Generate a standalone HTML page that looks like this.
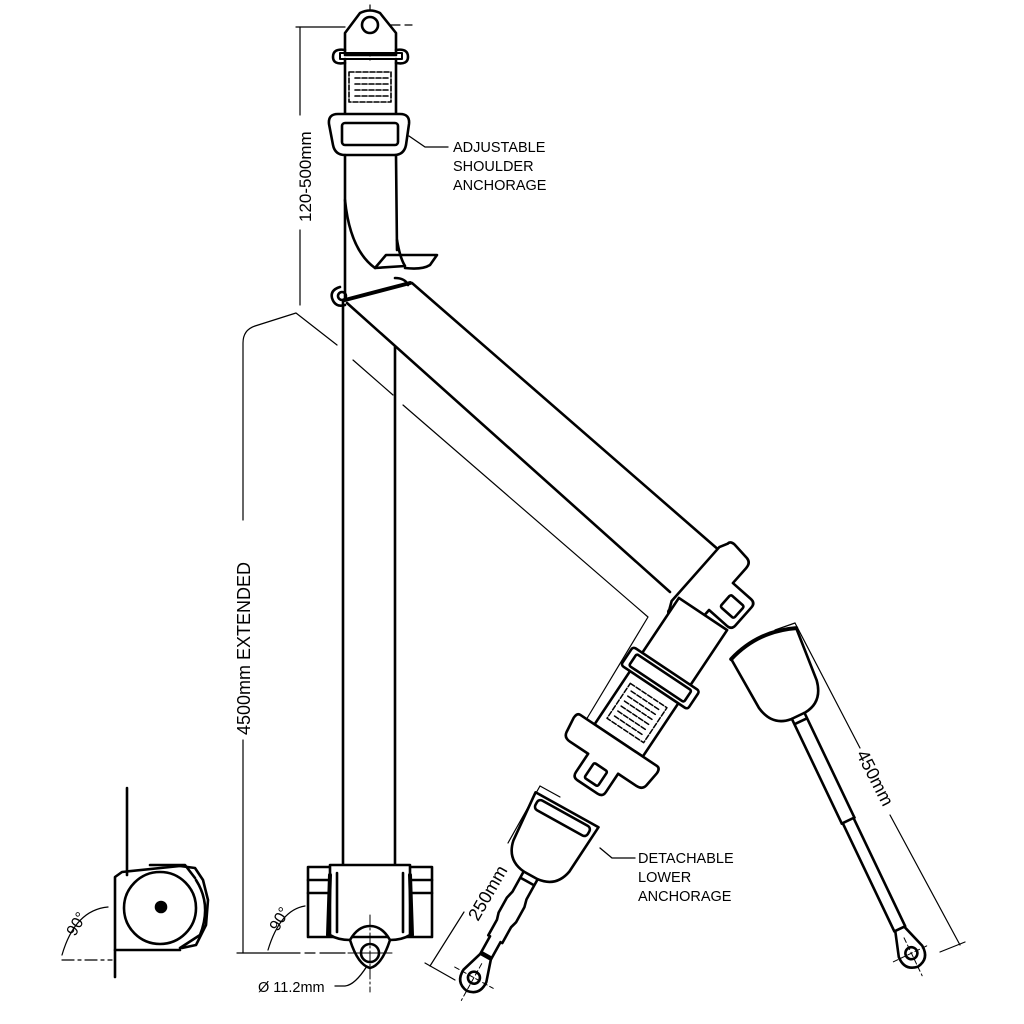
<!DOCTYPE html>
<html><head><meta charset="utf-8"><style>
html,body{margin:0;padding:0;background:#fff}
svg{display:block}
text{font-family:"Liberation Sans",sans-serif;fill:#000}
</style></head><body>
<svg width="1024" height="1024" viewBox="0 0 1024 1024" xmlns="http://www.w3.org/2000/svg">
<g fill="none" stroke="#000" stroke-linejoin="round" stroke-linecap="round">

<!-- dimension 120-500 -->
<g stroke-width="1.2">
<line x1="300" y1="27" x2="300" y2="115"/>
<line x1="300" y1="230" x2="300" y2="305"/>
<path d="M296,27 H345 M352,25 H360 M380,25 H400 M405,25 H412"/>
<line x1="370" y1="5" x2="370" y2="60" stroke-dasharray="10,3,2,3"/>
</g>
<text x="0" y="0" font-size="17" transform="translate(311,222) rotate(-90)" stroke="none">120-500mm</text>

<!-- dimension 4500 -->
<g stroke-width="1.2">
<path d="M243,520 V343 Q243,330 255,326 L296,313 L337,345"/>
<line x1="353" y1="360" x2="393" y2="395"/>
<path d="M403,405 L648,617 L580,730"/>
<line x1="243" y1="740" x2="243" y2="953"/>
<path d="M237,953 H300 M305,953 H315 M320,953 H345"/>
</g>
<text font-size="18" transform="translate(250,735) rotate(-90)" stroke="none">4500mm EXTENDED</text>

<!-- top anchor -->
<g stroke-width="2.6">
<path d="M345,55 L345,33 L360,13 Q370,8 380,13 L396,33 L396,55 Z" fill="#fff"/>
<circle cx="370" cy="25" r="8"/>
<path d="M345,50 Q333,48 333,57 Q333,65 345,63 M396,50 Q408,48 408,57 Q408,65 396,63"/>
<path d="M340,53 H402 V59 H340 Z" stroke-width="2"/>
<line x1="345" y1="59" x2="345" y2="115"/>
<line x1="396" y1="59" x2="396" y2="115"/>
</g>
<g stroke-width="1.6" stroke-dasharray="5,2">
<rect x="349" y="72" width="42" height="30"/>
<line x1="355" y1="78" x2="388" y2="78"/>
<line x1="355" y1="84" x2="388" y2="84"/>
<line x1="355" y1="90" x2="388" y2="90"/>
<line x1="355" y1="96" x2="388" y2="96"/>
</g>
<!-- adjuster -->
<g stroke-width="2.6">
<path d="M338,114 H400 Q410,114 409,124 L406,145 Q404,155 394,155 H345 Q335,155 333,145 L329,124 Q328,114 338,114 Z" fill="#fff"/>
<rect x="342" y="123" width="56" height="22" rx="3"/>
<line x1="345" y1="155" x2="345" y2="300"/>
<path d="M396,155 L397,250"/>
<path d="M345,200 Q350,250 375,268 L405,266 Q400,258 397,240"/>
<path d="M375,268 L386,255 H437 L430,265 Q422,270 405,268"/>
<path d="M340,287 Q330,290 332,298 Q335,308 345,305"/>
<path d="M395,278 Q405,278 408,285"/>
<circle cx="342" cy="296" r="4"/>
<path d="M345,300 L410,283" stroke-width="4"/>
<line x1="343" y1="300" x2="343" y2="866"/>
<line x1="395" y1="347" x2="395" y2="866"/>
<line x1="347" y1="303" x2="670" y2="592"/>
<line x1="412" y1="283" x2="728" y2="558"/>
</g>

<!-- upper tongue -->
<g transform="translate(700,578) rotate(-48.5)" stroke-width="2.6">
<path d="M-44,-2 Q-48,-2 -48,4 L-46,22 Q-45,28 -38,28 H-18 V52 Q-18,58 -12,58 H12 Q18,58 18,52 V28 H38 Q45,28 46,22 L48,4 Q48,-2 44,-2 L36,-6 L-36,-6 Z" fill="#fff"/>
<rect x="-8" y="34" width="16" height="18" rx="2"/>
</g>

<!-- lower webbing segment -->
<g transform="translate(703,614) rotate(33.7)" stroke-width="2.6">
<rect x="-29" y="0" width="58" height="152" fill="#fff"/>
<rect x="-40" y="66" width="80" height="22" rx="3" fill="#fff"/>
<rect x="-33" y="70" width="66" height="14" rx="2"/>
<path d="M-46,152 H46 Q50,152 50,158 L48,174 Q47,180 40,180 H18 V202 Q18,208 12,208 H-12 Q-18,208 -18,202 V180 H-40 Q-47,180 -48,174 L-50,158 Q-50,152 -46,152 Z" fill="#fff"/>
<rect x="-8" y="184" width="16" height="18" rx="2"/>
<g stroke-width="1.5" stroke-dasharray="5,2">
<rect x="-22" y="98" width="44" height="42"/>
<line x1="-17" y1="104" x2="17" y2="104"/><line x1="-17" y1="110" x2="17" y2="110"/>
<line x1="-17" y1="116" x2="17" y2="116"/><line x1="-17" y1="122" x2="17" y2="122"/>
<line x1="-17" y1="128" x2="17" y2="128"/><line x1="-17" y1="134" x2="17" y2="134"/>
</g>
</g>

<!-- right receptacle -->
<g transform="translate(762,640) rotate(-25.5)" stroke-width="2.6">
<path d="M-36,4 Q0,-10 36,4 L32,60 Q28,82 8,84 H-8 Q-28,82 -32,60 Z" fill="#fff"/>
<path d="M-36,4 Q0,-10 36,4" stroke-width="4"/>
<path d="M-7,84 V200 M7,84 V200 M-6,90 H6"/>
<path d="M-6,200 V320 M6,200 V320 M-7,200 H7"/>
<path d="M-5,320 L-13,345 Q-14,360 0,362 Q14,360 13,345 L5,320 Z" fill="#fff"/>
<circle cx="0" cy="347" r="6"/>
<line x1="-20" y1="347" x2="20" y2="347" stroke-width="1" stroke-dasharray="5,3"/>
<line x1="0" y1="330" x2="0" y2="372" stroke-width="1" stroke-dasharray="5,3"/>
</g>

<!-- left receptacle -->
<g transform="translate(568,808) rotate(29)" stroke-width="2.6">
<path d="M-36,2 L36,2 L32,55 Q28,75 8,77 H-8 Q-28,75 -32,55 Z" fill="#fff"/>
<rect x="-30" y="6" width="60" height="11" rx="4"/>
<path d="M-8,77 V100 L-10,108 V125 L-8,132 V150 M8,77 V100 L10,108 V125 L8,132 V150 M-8,84 H8"/>
<path d="M-6,150 V170 M6,150 V170 M-6,168 H6"/>
<path d="M-6,170 L-13,192 Q-14,207 0,209 Q14,207 13,192 L6,170 Z" fill="#fff"/>
<circle cx="0" cy="194" r="6"/>
<line x1="-22" y1="194" x2="22" y2="194" stroke-width="1" stroke-dasharray="5,3"/>
<line x1="0" y1="178" x2="0" y2="220" stroke-width="1" stroke-dasharray="5,3"/>
</g>

<!-- 450 dim -->
<g stroke-width="1.2">
<line x1="775" y1="630" x2="795" y2="623"/>
<line x1="795" y1="623" x2="860" y2="748"/>
<line x1="890" y1="815" x2="960" y2="945"/>
<line x1="940" y1="952" x2="965" y2="942"/>
</g>
<text font-size="18" transform="translate(856,754) rotate(63)" stroke="none">450mm</text>

<!-- 250 dim -->
<g stroke-width="1.2">
<line x1="540" y1="786" x2="560" y2="797"/>
<line x1="540" y1="786" x2="508" y2="843"/>
<line x1="464" y1="912" x2="430" y2="966"/>
<line x1="425" y1="963" x2="455" y2="980"/>
</g>
<text font-size="18" transform="translate(478,922) rotate(-60)" stroke="none">250mm</text>

<!-- retractor front -->
<g stroke-width="2.6">
<rect x="308" y="867" width="124" height="70" fill="#fff"/>
<line x1="308" y1="880" x2="432" y2="880"/>
<line x1="308" y1="893" x2="432" y2="893"/>
<path d="M330,865 H410 V935 Q402,940 390,940 Q382,926 370,926 Q358,926 350,940 Q338,940 330,935 Z" fill="#fff"/>
<path d="M337,873 V932 M403,873 V932"/>
<path d="M350,940 Q358,965 370,968 Q382,965 390,940" fill="#fff"/>
<circle cx="370" cy="953" r="9"/>
<path d="M330,875 L328,935 M410,875 L412,935" stroke-width="4"/>
</g>
<g stroke-width="1">
<line x1="370" y1="915" x2="370" y2="992" stroke-dasharray="10,3,2,3"/>
<line x1="348" y1="953" x2="392" y2="953"/>
</g>

<!-- retractor side -->
<g stroke-width="2.6">
<line x1="127" y1="788" x2="127" y2="875"/>
<path d="M115,977 V877 L122,872 L180,866 L195,868 L203,880 L208,900 L206,925 L196,945 L182,948" />
<path d="M150,865 H185 L195,878"/>
<circle cx="160" cy="908" r="36"/>
<circle cx="161" cy="907" r="5" fill="#000"/>
<path d="M196,880 Q212,905 200,935 L180,948" />
<path d="M115,950 H180"/>
</g>
<g stroke-width="1.2">
<path d="M62,960 H112" stroke-dasharray="12,4,3,4"/>
<path d="M108,907 Q75,910 62,955"/>
<path d="M305,906 Q280,910 268,950"/>
</g>
<text font-size="16" transform="translate(75,937) rotate(-60)" stroke="none">90°</text>
<text font-size="16" transform="translate(278,932) rotate(-60)" stroke="none">90°</text>

<!-- leaders -->
<g stroke-width="1.3">
<path d="M409,136 L425,147 H448"/>
<path d="M600,848 L612,858 H635"/>
<path d="M367,966 Q355,985 345,986 H335"/>
</g>
</g>
<g font-size="14.5">
<text x="453" y="152">ADJUSTABLE</text>
<text x="453" y="171">SHOULDER</text>
<text x="453" y="190">ANCHORAGE</text>
<text x="638" y="863">DETACHABLE</text>
<text x="638" y="882">LOWER</text>
<text x="638" y="901">ANCHORAGE</text>
<text x="258" y="992">Ø 11.2mm</text>
</g>
</svg>
</body></html>
